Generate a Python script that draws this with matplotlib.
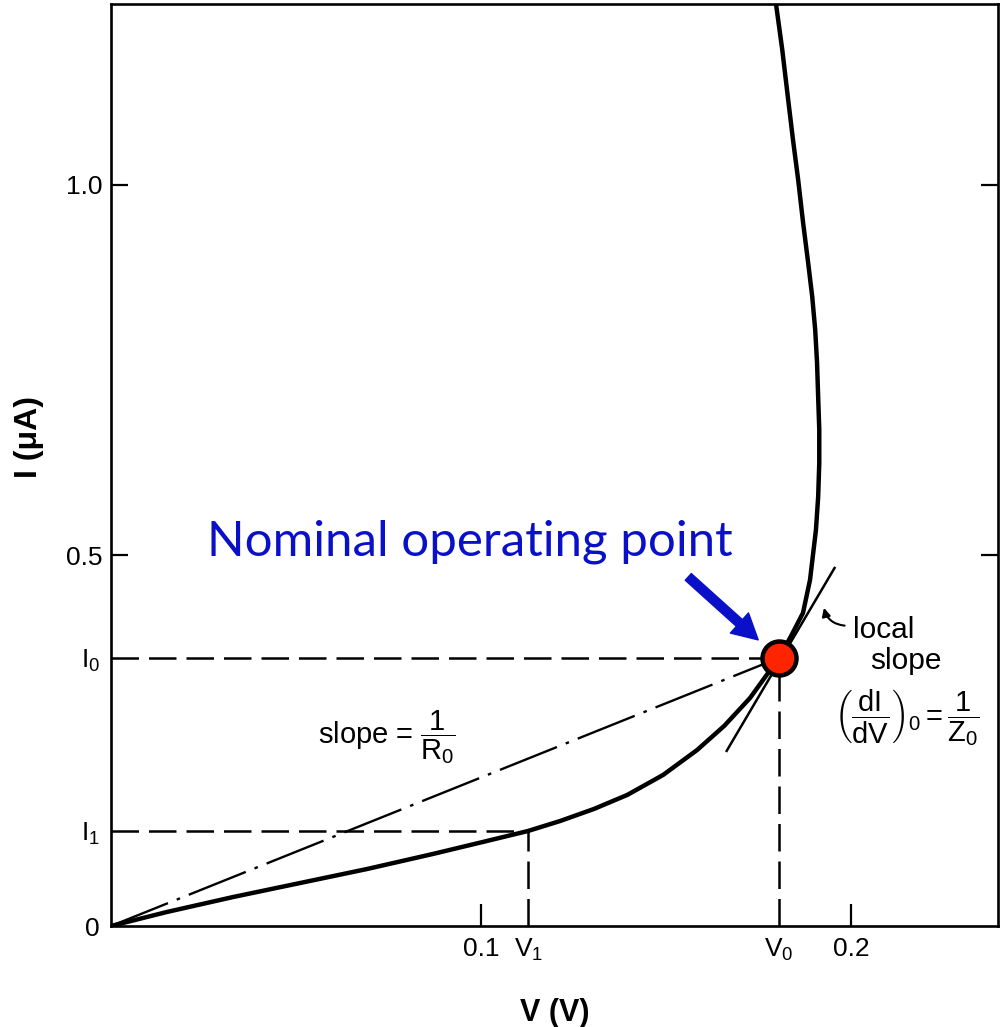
import matplotlib
matplotlib.use("Agg")
import matplotlib.pyplot as plt

plt.rcParams['font.family'] = ['Liberation Sans', 'DejaVu Sans']
plt.rcParams['mathtext.fontset'] = 'custom'
plt.rcParams['mathtext.rm'] = 'Liberation Sans'
plt.rcParams['mathtext.it'] = 'Liberation Sans'
plt.rcParams['mathtext.bf'] = 'Liberation Sans:bold'

# ---- data ----
voltage = [0.0, 0.0151, 0.0330, 0.0511, 0.0692, 0.0870, 0.1005, 0.1127, 0.1214,
           0.1305, 0.1395, 0.1492, 0.1584, 0.1657, 0.1727, 0.1805, 0.1838, 0.1870,
           0.1889, 0.1905, 0.1911, 0.1914, 0.1914, 0.1911, 0.1908, 0.1903, 0.1895,
           0.1884, 0.1870, 0.1857, 0.1843, 0.1830, 0.1814, 0.1797]
current = [0.0, 0.0189, 0.0391, 0.0580, 0.0769, 0.0972, 0.1134, 0.1282, 0.1417,
           0.1579, 0.1768, 0.2038, 0.2375, 0.2699, 0.3077, 0.3617, 0.3914, 0.4224,
           0.4669, 0.5344, 0.5789, 0.6248, 0.6694, 0.7139, 0.7598, 0.8043, 0.8489,
           0.8947, 0.9501, 1.0067, 1.0607, 1.1147, 1.1822, 1.2443]

V0, I0 = 0.1805, 0.3617      # nominal operating point
V1, I1 = 0.1127, 0.1282      # second marked point
tangent_v = [0.1662, 0.1957]
tangent_i = [0.2348, 0.4845]

y_major_ticks = [0.5, 1.0]
y_major_labels = ["0.5", "1.0"]
y_minor_ticks = [0.0, I1, I0]
y_minor_labels = ["0", r"$I_1$", r"$I_0$"]
x_major_ticks = [0.1, 0.2]
x_major_labels = ["0.1", "0.2"]
x_minor_ticks = [V1, V0]
x_minor_labels = [r"$V_1$", r"$V_0$"]

BLUE = '#0A10C8'

fig = plt.figure(figsize=(10.03, 10.27), dpi=100)
ax = fig.add_axes([111 / 1003, 101 / 1027, 887 / 1003, 922 / 1027])
ax.set_xlim(0, 0.2397)
ax.set_ylim(0, 1.244)

for s in ax.spines.values():
    s.set_linewidth(1.9)

# dashed guide lines
dash = (0, (11, 4))
ax.plot([0, V0], [I0, I0], color='black', lw=1.8, linestyle=dash)
ax.plot([V0, V0], [0, I0], color='black', lw=1.8, linestyle=dash)
ax.plot([0, V1], [I1, I1], color='black', lw=1.8, linestyle=dash)
ax.plot([V1, V1], [0, I1], color='black', lw=1.8, linestyle=dash)

# chord (dash-dot)
ax.plot([0, V0], [0, I0], color='black', lw=1.7, linestyle=(0, (26, 4, 1.5, 4)))

# tangent
ax.plot(tangent_v, tangent_i, color='black', lw=1.8, solid_capstyle='butt')

# I-V curve
ax.plot(voltage, current, color='black', lw=3.2, solid_joinstyle='round')

# operating point
ax.plot([V0], [I0], 'o', ms=24.5, mfc='#FF2400', mec='black', mew=3.2, zorder=10)

# ticks
ax.set_yticks(y_major_ticks)
ax.set_yticklabels(y_major_labels)
ax.set_yticks(y_minor_ticks, minor=True)
ax.set_yticklabels(y_minor_labels, minor=True)
ax.set_xticks(x_major_ticks)
ax.set_xticklabels(x_major_labels)
ax.set_xticks(x_minor_ticks, minor=True)
ax.set_xticklabels(x_minor_labels, minor=True)

ax.tick_params(axis='y', which='major', direction='in', length=12, width=1.6,
               right=True, labelsize=19, pad=6)
ax.tick_params(axis='y', which='minor', length=0, labelsize=19, pad=8)
ax.tick_params(axis='x', which='major', direction='in', length=16, width=1.6,
               top=False, labelsize=19, pad=8)
ax.tick_params(axis='x', which='minor', length=0, labelsize=19, pad=8)

ax.set_xlabel("V (V)", fontsize=22, fontweight='bold')
ax.xaxis.set_label_coords(0.5, -0.078)
ax.set_ylabel("I (\u03bcA)", fontsize=23, fontweight='bold')
ax.yaxis.set_label_coords(-0.075, 0.530)

# annotations
ax.text(0.0560, 0.255, r"slope = $\dfrac{1}{R_0}$", fontsize=21, ha='left', va='center')
ax.text(0.2005, 0.399, "local", fontsize=21.5, ha='left', va='center')
ax.text(0.2051, 0.358, "slope", fontsize=21.5, ha='left', va='center')
ax.text(0.2150, 0.281, r"$\left(\dfrac{dI}{dV}\right)_0 = \dfrac{1}{Z_0}$",
        fontsize=21, ha='center', va='center')
ax.annotate("", xy=(0.1925, 0.433), xytext=(0.1990, 0.405),
            arrowprops=dict(arrowstyle='-|>,head_width=0.25,head_length=0.5',
                            color='black', lw=1.5,
                            connectionstyle='arc3,rad=-0.4'))

ax.text(0.0259, 0.500, "Nominal operating point", fontsize=35.5, color=BLUE,
        family=['Lato', 'DejaVu Sans'], ha='left', va='baseline')
ax.annotate("", xy=(0.1749, 0.386), xytext=(0.1560, 0.471),
            arrowprops=dict(arrowstyle='simple,head_width=1.5,head_length=1.4,tail_width=0.5',
                            color=BLUE, mutation_scale=13, shrinkA=0, shrinkB=0))

fig.savefig("out.png", dpi=100)
